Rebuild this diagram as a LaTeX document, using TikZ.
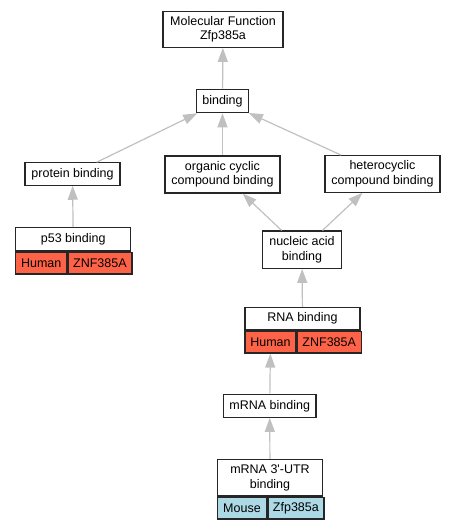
\documentclass[tikz,border=0pt]{standalone}
\usepackage{fontspec}
\newfontfamily\gofont{Liberation Sans}
\usetikzlibrary{arrows.meta}
\definecolor{humancol}{HTML}{FF6347}
\definecolor{mousecol}{HTML}{ADD8E6}
\definecolor{edgecol}{HTML}{C0C0C0}

\begin{document}
\begin{tikzpicture}[x=1pt,y=-1pt,
    term/.style={draw=black!85,line width=1.2pt,fill=white,inner sep=0pt,align=center,
        font=\gofont\fontsize{12.5}{14.5}\selectfont},
    cell/.style={term,minimum height=21.7,anchor=north west},
    edge line/.style={color=edgecol,line width=1.2pt,-{Triangle[length=14pt,width=10pt]}}]
    \useasboundingbox (0,0) rectangle (456,528);

    \node[term,minimum width=120,minimum height=35.6] (mf) at (223,29.5) {Molecular Function\\Zfp385a};
    \node[term,minimum width=51.6,minimum height=23.4] (bind) at (222.5,101) {binding};

    \node[term,minimum width=95,minimum height=22.3] (pb) at (72.5,174) {protein binding};
    \node[term,minimum width=115,minimum height=37] (ocb) at (222.5,174.5) {organic cyclic\\compound binding};
    \node[term,minimum width=115,minimum height=36.6] (hcb) at (382.5,174) {heterocyclic\\compound binding};
    \node[term,minimum width=79.4,minimum height=37.3] (nab) at (302,249.7) {nucleic acid\\binding};

    % annotated terms with species / gene rows
    \node[term,minimum width=115,minimum height=23.3] (p53) at (73.2,239.4) {p53 binding};
    \node[cell,fill=humancol,minimum width=51] (p53sp) at (p53.south west) {Human};
    \node[cell,fill=humancol,minimum width=64] (p53gene) at (p53sp.north east) {ZNF385A};

    \node[term,minimum width=115,minimum height=22.7] (rna) at (302.5,318.7) {RNA binding};
    \node[cell,fill=humancol,minimum width=51] (rnasp) at (rna.south west) {Human};
    \node[cell,fill=humancol,minimum width=64] (rnagene) at (rnasp.north east) {ZNF385A};

    \node[term,minimum width=92.7,minimum height=23] (mrna) at (269.7,405.8) {mRNA binding};

    \node[term,minimum width=105.4,minimum height=36.7] (utr) at (270,477.7) {mRNA 3'-UTR\\binding};
    \node[cell,fill=mousecol,minimum width=49.4] (utrsp) at (utr.south west) {Mouse};
    \node[cell,fill=mousecol,minimum width=56] (utrgene) at (utrsp.north east) {Zfp385a};

    \path[edge line]
        (bind) edge (mf)

        (pb) edge (bind)
        (ocb) edge (bind)
        (hcb) edge (bind)

        (nab) edge (ocb)
        (nab) edge (hcb)

        (p53) edge (pb)
        (rna) edge (nab)
        (mrna) edge (rnasp)
        (utr) edge (mrna)
    ;
\end{tikzpicture}
\end{document}
